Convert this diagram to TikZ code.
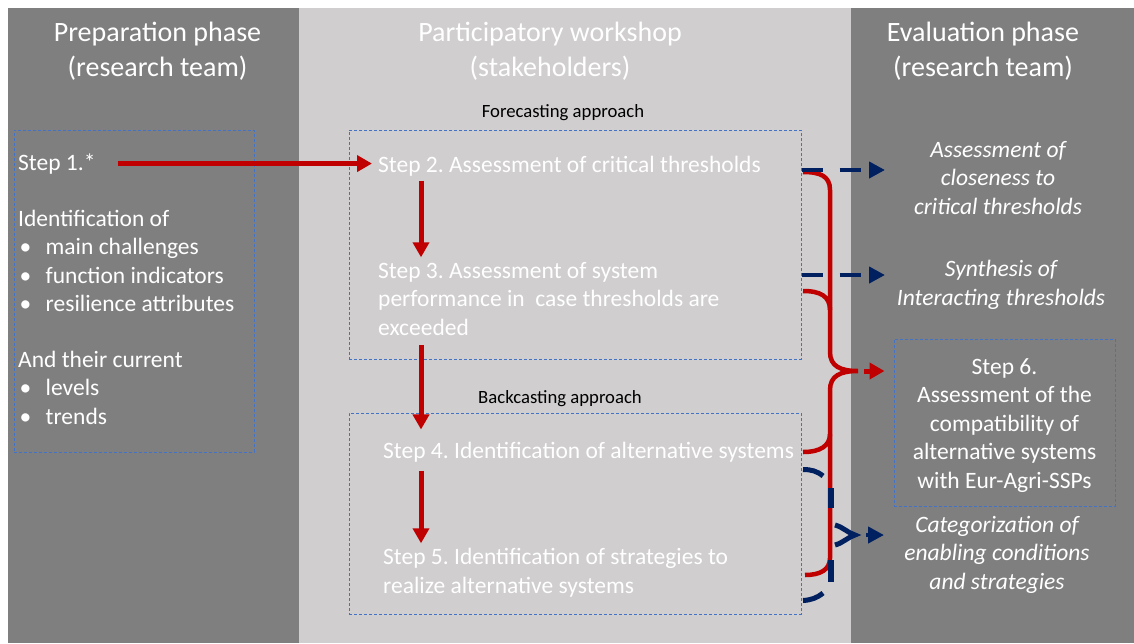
\documentclass[tikz,border=0pt]{standalone}
\usepackage{fontspec}
\setmainfont{Carlito}
\usepackage{xcolor}
\usepackage{tikz}
\usetikzlibrary{positioning}
\usetikzlibrary{arrows.meta}

\definecolor{darkcol}{RGB}{127,127,127}
\definecolor{lightcol}{RGB}{208,206,206}
\definecolor{redline}{RGB}{192,0,0}
\definecolor{navyline}{RGB}{0,32,96}
\definecolor{boxline}{RGB}{68,114,196}
\newcommand{\itembul}{\makebox[27.5pt][l]{\hspace{1.5pt}\textbullet}}
\frenchspacing

\begin{document}
\begin{tikzpicture}[x=1pt,y=-1pt,
  head/.style={font=\fontsize{28}{35.5}\selectfont,text=white,align=center,anchor=base,inner sep=0pt},
  txt/.style={font=\fontsize{23.5}{28.2}\selectfont,text=white,align=left,anchor=base west,inner sep=0pt},
  evaltxt/.style={font=\fontsize{23.5}{28.2}\selectfont\itshape,text=white,align=center,anchor=base,inner sep=0pt},
  approach/.style={font=\fontsize{18.7}{22}\selectfont,text=black,inner sep=0pt},
  dashbox/.style={draw=boxline,line width=1pt,dash pattern=on 3pt off 2pt,inner sep=0pt},
  redarrow/.style={draw=redline,line width=5pt,-{Triangle[length=15pt,width=16pt]}},
  navyarrow/.style={draw=navyline,line width=4.5pt,dash pattern=on 21pt off 17pt,-{Triangle[length=16pt,width=16pt]}},
  brace/.style={line width=4.5pt,line cap=butt}]
\useasboundingbox (0,0) rectangle (1134,643);
\fill[white] (0,0) rectangle (1134,643);
\fill[darkcol] (8,8) rectangle (299,643);
\fill[lightcol] (299,8) rectangle (851,643);
\fill[darkcol] (851,8) rectangle (1134,643);

\node[head] (hprep) at (157.5,76.5) {Preparation phase\\(research team)};
\node[head] (hwork) at (550,76.5) {Participatory workshop\\(stakeholders)};
\node[head] (heval) at (983,76.5) {Evaluation phase\\(research team)};

\node[dashbox,minimum width=240pt,minimum height=322pt] (prepbox) at (134,291) {};
\node[dashbox,minimum width=452pt,minimum height=229pt] (forebox) at (575,244.5) {};
\node[dashbox,minimum width=452pt,minimum height=201pt] (backbox) at (575,513.5) {};
\node[approach,above=8.5pt of forebox.north,xshift=-12pt] (fore) {Forecasting approach};
\node[approach,above=5.5pt of backbox.north,xshift=-15pt] (back) {Backcasting approach};

\node[txt] (s1) at (18,170) {Step 1.*};
\node[txt] (s1list) at (18,424) {Identification of\\\itembul main challenges\\\itembul function indicators\\\itembul resilience attributes\\[28.2pt]And their current\\\itembul levels\\\itembul trends};
\node[txt] (s2) at (378,172) {Step 2. Assessment of critical thresholds};
\node[txt] (s3) at (378,335) {Step 3. Assessment of system\\performance in\ \ case thresholds are\\exceeded};
\node[txt] (s4) at (383,458) {Step 4. Identification of alternative systems};
\node[txt] (s5) at (383,593) {Step 5. Identification of strategies to\\realize alternative systems};

\node[evaltxt] (ev1) at (998,214) {Assessment of\\closeness to\\critical thresholds};
\node[evaltxt] (ev2) at (1001,305) {Synthesis of\\Interacting thresholds};
\node[evaltxt] (ev3) at (997,589) {Categorization of\\enabling conditions\\and strategies};
\node[dashbox,font=\fontsize{23.5}{28.5}\selectfont,text=white,align=center,text height=136pt,minimum width=221pt,minimum height=167pt] (s6) at (1004.5,422.5) {Step 6.\\Assessment of the\\compatibility of\\alternative systems\\with Eur-Agri-SSPs};

\coordinate (vx) at (421,0);
\draw[redarrow,shorten <=22pt,shorten >=6pt] (s1.east) -- (s1.east -| s2.west);
\draw[redarrow,shorten <=5pt,shorten >=5pt] (vx |- s2.south) -- (vx |- s3.north);
\draw[redarrow,shorten <=10pt,shorten >=12pt] (vx |- s3.south) -- (vx |- s4.north);
\draw[redarrow,shorten <=9pt,shorten >=5pt] (vx |- s4.south) -- (vx |- s5.north);

\coordinate (rtip) at (858,371);
\coordinate (ntip) at (855,535);
\coordinate (n1) at (885,170);
\coordinate (n2) at (885,275);
\coordinate (n3) at (884,535);

\draw[redline,brace] (803,172) .. controls (820,172) and (830,176) .. (830,190) -- (830,352) .. controls (830,366) and (840,371) .. (rtip) .. controls (840,371) and (830,376) .. (830,390) -- (830,558) .. controls (830,570) and (820,575) .. (805,575);
\draw[redline,brace] (803,291) .. controls (820,291) and (830,296) .. (830,310);
\draw[redline,brace] (803,452) .. controls (820,452) and (830,446) .. (830,434);
\draw[redarrow,shorten <=6pt,shorten >=9pt] (rtip) -- (rtip -| s6.west);

\draw[navyline,brace,line width=5pt] (803,469.5) .. controls (811,469.5) and (817,471) .. (823,476);
\draw[navyline,brace,line width=5.5pt] (831,488) -- (831,508);
\draw[navyline,brace,line width=5pt] (835,525) .. controls (843,527) and (848,533) .. (ntip) .. controls (848,537) and (843,543) .. (835,545);
\draw[navyline,brace,line width=5.5pt] (831,560) -- (831,582);
\draw[navyline,brace,line width=5pt] (823,593) .. controls (817,598) and (811,600) .. (803,600.5);
\draw[navyarrow] (forebox.east |- n1) -- (n1);
\draw[navyarrow] (forebox.east |- n2) -- (n2);
\draw[navyarrow,shorten <=11pt] (ntip) -- (n3);
\end{tikzpicture}
\end{document}
